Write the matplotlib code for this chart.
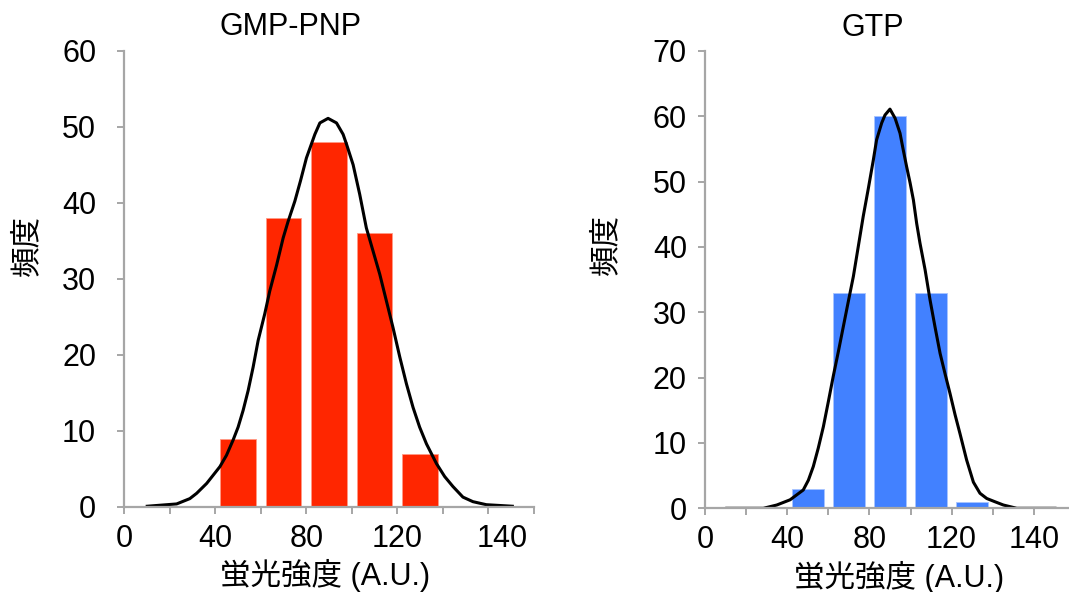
import matplotlib
matplotlib.use('Agg')
import matplotlib.pyplot as plt

plt.rcParams['font.family'] = ['Liberation Sans', 'Noto Sans CJK JP', 'DejaVu Sans']

# bin centres and counts
bins = [50, 70, 90, 110, 130]
gmp_counts = [9, 38, 48, 36, 7]
gtp_counts = [3, 33, 60, 33, 1]

# fitted curves
gmp_curve_x = [10.2, 23.1, 28.9, 31.9, 36.3, 39.2, 42.1, 45.0, 47.9, 50.1, 52.3, 54.5,
               56.7, 58.9, 61.8, 64.0, 67.0, 69.9, 72.0, 75.0, 77.5, 80.1, 83.8, 86.0,
               89.6, 93.3, 96.2, 97.7, 100.6, 103.5, 106.4, 109.3, 112.3, 115.2, 118.1,
               121.1, 124.0, 126.9, 129.8, 132.8, 137.2, 140.8, 144.4, 148.8, 153.2,
               159.1, 170.5]
gmp_curve_y = [0.1, 0.4, 1.1, 1.8, 3.1, 4.2, 5.3, 6.8, 8.8, 10.5, 12.7, 15.3,
               18.4, 21.9, 25.4, 28.4, 31.8, 35.4, 37.5, 40.2, 42.9, 45.9, 49.0, 50.5,
               51.1, 50.5, 49.0, 47.7, 45.0, 41.1, 36.7, 33.7, 30.6, 27.1, 23.6,
               19.7, 16.2, 13.1, 10.5, 8.3, 5.7, 4.0, 2.7, 1.3, 0.7,
               0.3, 0.1]
gtp_curve_x = [10.6, 28.4, 34.9, 41.4, 47.8, 50.3, 52.7, 55.1, 57.6, 60.0, 62.4, 64.9,
               67.3, 69.7, 72.2, 74.6, 77.0, 79.5, 81.9, 83.5, 86.0, 87.6, 90.0, 92.5,
               94.9, 96.5, 98.1, 99.8, 101.4, 103.0, 104.6, 107.1, 109.5, 111.9, 114.4,
               116.8, 119.2, 121.7, 124.1, 127.3, 130.6, 133.8, 137.1, 141.1, 145.2,
               151.7, 170.3]
gtp_curve_y = [0.0, 0.0, 0.5, 1.3, 2.8, 4.3, 6.4, 9.2, 12.5, 16.3, 20.2, 24.0,
               27.8, 31.6, 35.5, 40.1, 44.7, 49.0, 53.3, 56.4, 59.0, 60.2, 61.1, 59.7,
               57.4, 54.8, 52.3, 49.8, 47.2, 43.6, 40.6, 36.5, 31.9, 27.8, 23.7,
               20.6, 17.6, 14.3, 11.4, 7.4, 4.0, 2.3, 1.5, 1.0, 0.5,
               0.0, 0.0]

gmp_ticks = [0, 20, 40, 60, 80, 100, 120, 140, 160, 180]
gtp_ticks = [0, 20, 40, 60, 80, 100, 120, 140, 160]
gmp_label_pos = [0, 40, 80, 120, 166]
gtp_label_pos = [0, 40, 80, 120, 160]
x_labels = ['0', '40', '80', '120', '140']

GREY = '#a6a6a6'
FS = 22


def style_axis(ax, xlim, ylim, ystep, ticks, label_pos, title, title_x, xlabel_x, ylabel_xy, ypad):
    ax.set_xlim(*xlim)
    ax.set_ylim(*ylim)
    for s in ['top', 'right']:
        ax.spines[s].set_visible(False)
    for s in ['left', 'bottom']:
        ax.spines[s].set_color(GREY)
        ax.spines[s].set_linewidth(1.6)
    ax.xaxis.remove_overlapping_locs = False
    ax.set_xticks(ticks)
    ax.set_xticklabels([])
    ax.set_xticks(label_pos, x_labels, minor=True)
    ax.tick_params(axis='x', which='major', direction='out', length=5, width=1.4, color=GREY)
    ax.tick_params(axis='x', which='minor', length=0, pad=12, labelsize=FS)
    ax.set_yticks(range(ylim[0], ylim[1] + 1, ystep))
    ax.tick_params(axis='y', direction='out', length=5, width=1.4, color=GREY, labelsize=FS, pad=ypad)
    ax.set_title(title, x=title_x, fontsize=FS, pad=11)
    ax.set_xlabel('蛍光強度 (A.U.)', fontsize=FS)
    ax.xaxis.set_label_coords(xlabel_x, -0.115)
    ax.set_ylabel('頻度', fontsize=FS)
    ax.yaxis.set_label_coords(*ylabel_xy)


fig = plt.figure(figsize=(10.69, 5.92), dpi=100)

ax1 = fig.add_axes([0.116, 0.1436, 0.3835, 0.7708])
ax1.bar(bins, gmp_counts, width=15.5, color='#ff2600', edgecolor='#ff9a85', linewidth=0.6)
ax1.plot(gmp_curve_x, gmp_curve_y, color='black', linewidth=2.2, solid_joinstyle='round')
style_axis(ax1, (0, 180), (0, 60), 10, gmp_ticks, gmp_label_pos, 'GMP-PNP', 0.405,
           0.49, (-0.20, 0.574), 15)

ax2 = fig.add_axes([0.6595, 0.1414, 0.3395, 0.7725])
ax2.bar(bins, gtp_counts, width=15.5, color='#4281ff', edgecolor='#a8c4ff', linewidth=0.6)
ax2.plot(gtp_curve_x, gtp_curve_y, color='black', linewidth=2.2, solid_joinstyle='round')
style_axis(ax2, (0, 176.6), (0, 70), 10, gtp_ticks, gtp_label_pos, 'GTP', 0.463,
           0.535, (-0.23, 0.576), 8)

fig.savefig('out.png', dpi=100)
